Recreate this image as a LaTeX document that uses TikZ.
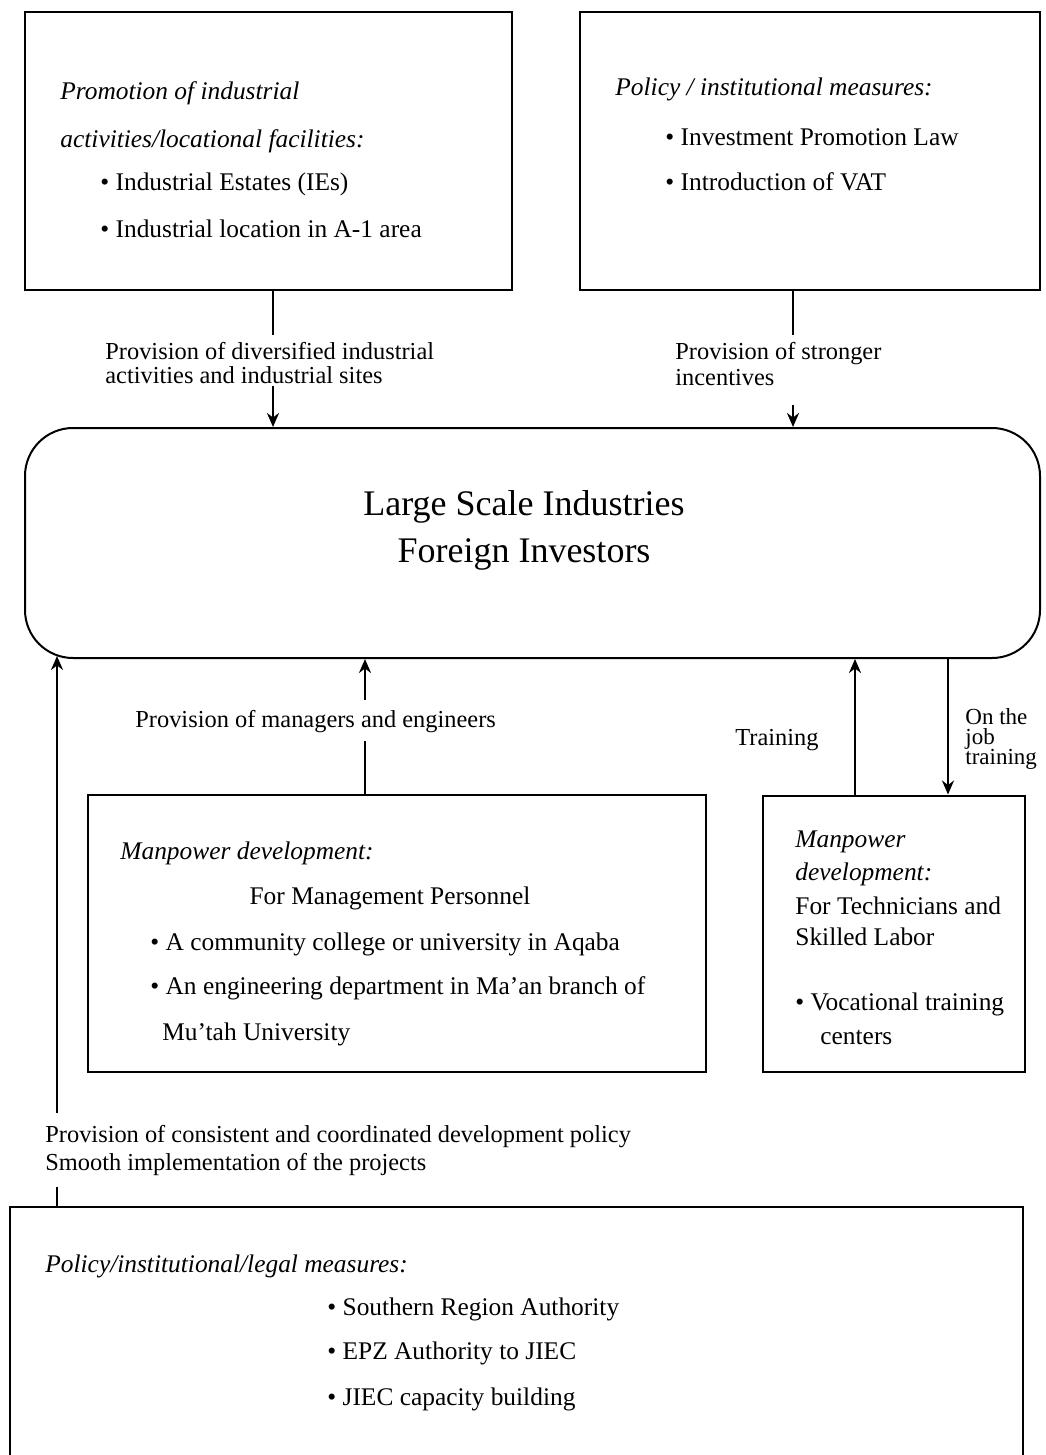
\documentclass[tikz,border=0pt]{standalone}
\usepackage{fontspec}
\setmainfont{Liberation Serif}
\usetikzlibrary{arrows.meta}
\begin{document}
\begin{tikzpicture}[x=0.5pt,y=-0.5pt,
  frame/.style={draw, line width=1pt, inner sep=0pt},
  conn/.style={line width=1.3pt},
  arr/.style={line width=1.3pt, -{Stealth[length=7pt,width=6pt]}},
  txt/.style={anchor=base west, inner sep=0pt, yshift=-3.7pt, font=\fontsize{12.7}{15}\selectfont},
  itx/.style={txt, font=\fontsize{12.7}{15}\selectfont\itshape},
  ctx/.style={anchor=base, inner sep=0pt, yshift=-3.7pt, font=\fontsize{12.7}{15}\selectfont},
  lab/.style={anchor=base west, inner sep=0pt, yshift=-3.5pt, font=\fontsize{12.2}{14}\selectfont},
  small/.style={anchor=base west, inner sep=0pt, yshift=-3pt, font=\fontsize{11.5}{12}\selectfont},
  big/.style={anchor=base, inner sep=0pt, yshift=-5.3pt, font=\fontsize{18}{21}\selectfont}
]
\useasboundingbox (0,0) rectangle (1045,1455);

% frames
\node[frame, minimum width=243.5pt, minimum height=139pt] (b1) at (268.5,151) {};
\node[frame, minimum width=230pt, minimum height=139pt] (b2) at (810,151) {};
\node[frame, rounded corners=24pt, minimum width=507.5pt, minimum height=115pt] (lsi) at (532.5,543) {};
\node[frame, minimum width=309pt, minimum height=138.5pt] (mgt) at (397,933.5) {};
\node[frame, minimum width=131pt, minimum height=138pt] (tech) at (894,933.5) {};
\node[inner sep=0pt, minimum width=506.5pt, minimum height=126.5pt] (bot) at (516.5,1333.5) {};
\draw[line width=1pt] (bot.south west) -- (bot.north west) -- (bot.north east) -- (bot.south east);

% box 1 text
\node[itx] (t11) at (60,92) {Promotion of industrial};
\node[itx] (t12) at (60,140) {activities/locational facilities:};
\node[txt] (t13) at (100,183) {• Industrial Estates (IEs)};
\node[txt] (t14) at (100,230) {• Industrial location in A-1 area};

% box 2 text
\node[itx] (t21) at (615,88) {Policy / institutional measures:};
\node[txt] (t22) at (665,138) {• Investment Promotion Law};
\node[txt] (t23) at (665,183) {• Introduction of VAT};

% big box text
\node[big] (l1) at (524,505) {Large Scale Industries};
\node[big] (l2) at (524,552) {Foreign Investors};

% labels top
\node[lab] (a1) at (105,352) {Provision of diversified industrial};
\node[lab] (a2) at (105,376) {activities and industrial sites};
\node[lab] (c1) at (675,352) {Provision of stronger};
\node[lab] (c2) at (675,378) {incentives};

% labels middle
\node[lab] (m1) at (135,720) {Provision of managers and engineers};
\node[lab] (tr) at (735,738) {Training};
\node[small] (oj1) at (965,718) {On the};
\node[small] (oj2) at (965,738) {job};
\node[small] (oj3) at (965,758) {training};

% management box
\node[itx] (g1) at (120,852) {Manpower development:};
\node[ctx] (g2) at (390,897) {For Management Personnel};
\node[txt] (g3) at (150,943) {• A community college or university in Aqaba};
\node[txt] (g4) at (150,987) {• An engineering department in Ma'an branch of};
\node[txt] (g5) at (162,1033) {Mu'tah University};

% tech box
\node[itx] (h1) at (795,840) {Manpower};
\node[itx] (h2) at (795,873) {development:};
\node[txt] (h3) at (795,907) {For Technicians and};
\node[txt] (h4) at (795,938) {Skilled Labor};
\node[txt] (h5) at (795,1003) {• Vocational training};
\node[txt] (h6) at (820,1037) {centers};

% lower labels
\node[lab] (d1) at (45,1135) {Provision of consistent and coordinated development policy};
\node[lab] (d2) at (45,1163) {Smooth implementation of the projects};

% bottom box
\node[itx] (k1) at (45,1265) {Policy/institutional/legal measures:};
\node[txt] (k2) at (327,1308) {• Southern Region Authority};
\node[txt] (k3) at (327,1352) {• EPZ Authority to JIEC};
\node[txt] (k4) at (327,1398) {• JIEC capacity building};

% connectors
\coordinate (p1) at (273,335); \coordinate (q1) at (273,386);
\draw[conn] (p1 |- b1.south) -- (p1);
\draw[arr] (q1) -- (q1 |- lsi.north);

\coordinate (p2) at (793,335); \coordinate (q2) at (793,405);
\draw[conn] (p2 |- b2.south) -- (p2);
\draw[arr] (q2) -- (q2 |- lsi.north);

\coordinate (p3) at (365,741); \coordinate (q3) at (365,700);
\draw[conn] (p3 |- mgt.north) -- (p3);
\draw[arr] (q3) -- (q3 |- lsi.south);

\coordinate (p4) at (855,700);
\draw[arr] (p4 |- tech.north) -- (p4 |- lsi.south);

\coordinate (p5) at (948,700);
\draw[arr] (p5 |- lsi.south) -- (p5 |- tech.north);

\coordinate (p6) at (57,1187); \coordinate (q6) at (57,1113); \coordinate (e6) at (57,656);
\draw[conn] (p6 |- bot.north) -- (p6);
\draw[arr] (q6) -- (e6);
\end{tikzpicture}
\end{document}
